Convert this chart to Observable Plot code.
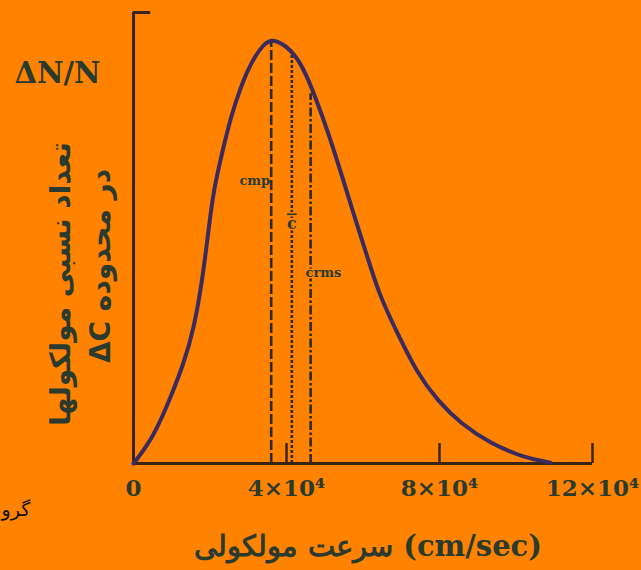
<!DOCTYPE html>
<html>
<head>
<meta charset="utf-8">
<script src="https://cdn.jsdelivr.net/npm/d3@7"></script>
<script src="https://cdn.jsdelivr.net/npm/@observablehq/plot@0.6"></script>
<style>
  html, body { margin: 0; padding: 0; background: #ff8300; }
  #chart svg { display: block; }
  .cbar text { text-decoration: overline; }
</style>
</head>
<body>
<div id="chart"></div>
<script>
// speed in units of 10^4 cm/sec, relative fraction ΔN/N (peak = 1)
const speed = [0, 0.52, 0.97, 1.31, 1.57, 1.80, 1.96, 2.09, 2.33, 2.54, 2.80, 3.06, 3.40, 3.66, 4.10, 4.44, 4.76, 5.07, 5.41, 5.75, 6.12, 6.41, 6.90, 7.42, 7.95, 8.55, 9.33, 10.20, 10.90];
const fraction = [0, 0.061, 0.155, 0.235, 0.313, 0.431, 0.548, 0.642, 0.736, 0.814, 0.885, 0.941, 0.988, 1.0, 0.976, 0.932, 0.861, 0.784, 0.689, 0.588, 0.485, 0.400, 0.306, 0.212, 0.148, 0.094, 0.047, 0.014, 0.002];

const tickValues = [0, 4, 8, 12];
const tickLabels = ["0", "4×10⁴", "8×10⁴", "12×10⁴"];

const markerNames = ["cmp", "c", "crms"];
const markerSpeed = [3.60, 4.14, 4.63];
const markerTop = [0.99, 0.965, 0.87];
const markerLabelY = [0.666, 0.565, 0.449];

const yMax = 1.061;
const xMax = 12;

const curve = speed.map((s, i) => ({s, f: fraction[i]}));
const markers = markerNames.map((n, i) => ({n, s: markerSpeed[i], top: markerTop[i], ly: markerLabelY[i]}));

const ink = "#2e2a30";
const axisInk = "#3a2416";
const curveInk = "#3b2a5e";
const labelInk = "#2b3a2e";
const bg = "#ff8300";
const serif = "DejaVu Serif, serif";
const persian = "DejaVu Sans, sans-serif";

const dashes = ["10,3", "3,2", "9,2.5,2.5,2.5"];

const chart = Plot.plot({
  width: 641,
  height: 570,
  marginLeft: 133,
  marginRight: 49,
  marginTop: 12,
  marginBottom: 107,
  style: {background: bg, overflow: "visible"},
  x: {domain: [0, xMax], axis: null},
  y: {domain: [0, yMax], axis: null},
  marks: [
    // marker lines
    ...markers.map((m, i) => Plot.ruleX([m], {x: "s", y1: 0, y2: "top", stroke: ink, strokeWidth: 2.6, strokeDasharray: dashes[i]})),
    // axes
    Plot.ruleX([0], {y1: 0, y2: yMax, stroke: axisInk, strokeWidth: 3}),
    Plot.ruleY([yMax], {x1: 0, x2: 0.45, stroke: axisInk, strokeWidth: 3}),
    Plot.ruleY([0], {x1: 0, x2: xMax, stroke: axisInk, strokeWidth: 3}),
    Plot.ruleX(tickValues.slice(1), {y1: 0, y2: 0.047, stroke: axisInk, strokeWidth: 2.5}),
    // curve
    Plot.line(curve, {x: "s", y: "f", curve: "basis", stroke: curveInk, strokeWidth: 4}),
    // marker labels
    Plot.text(markers.slice(0, 1), {x: "s", y: "ly", text: "n", textAnchor: "end", lineAnchor: "middle", dx: -1, fontSize: 13, fontWeight: "bold", fontFamily: serif, fill: labelInk}),
    Plot.text(markers.slice(1, 2), {x: "s", y: "ly", text: "n", className: "cbar", textAnchor: "middle", lineAnchor: "middle", dy: 1, fontSize: 16, fontWeight: "bold", fontFamily: serif, fill: labelInk, stroke: bg, strokeWidth: 3, paintOrder: "stroke"}),
    Plot.text(markers.slice(2, 3), {x: "s", y: "ly", text: "n", textAnchor: "start", lineAnchor: "middle", dx: -5, fontSize: 13, fontWeight: "bold", fontFamily: serif, fill: labelInk, stroke: bg, strokeWidth: 3, paintOrder: "stroke"}),
    // tick labels
    Plot.text(tickValues, {x: d => d, text: (d, i) => tickLabels[i], frameAnchor: "bottom", lineAnchor: "middle", textAnchor: "middle", dy: 25, fontSize: 23, fontWeight: "bold", fontFamily: serif, fill: labelInk}),
    // x label
    Plot.text(["سرعت مولکولی (cm/sec)"], {frameAnchor: "bottom", lineAnchor: "middle", textAnchor: "middle", dx: 5, dy: 83, fontSize: 29, fontWeight: "bold", fontFamily: serif, fill: labelInk}),
    // y labels
    Plot.text(["ΔN/N"], {frameAnchor: "top-left", lineAnchor: "middle", textAnchor: "middle", dx: -76, dy: 61, fontSize: 29, fontWeight: "bold", fontFamily: serif, fill: labelInk}),
    Plot.text(["تعداد نسبی مولکولها"], {frameAnchor: "left", lineAnchor: "middle", textAnchor: "middle", dx: -72, dy: 46, rotate: -90, fontSize: 28, fontWeight: "bold", fontFamily: persian, fill: labelInk}),
    Plot.text(["ΔC در محدوده"], {frameAnchor: "left", lineAnchor: "middle", textAnchor: "middle", dx: -32, dy: 28, rotate: -90, fontSize: 28, fontWeight: "bold", fontFamily: persian, fill: labelInk}),
    // caption fragment at the left edge
    Plot.text(["گرو"], {frameAnchor: "bottom-left", lineAnchor: "middle", textAnchor: "start", dx: -132, dy: 46, fontSize: 19, fontFamily: persian, fill: "#111"})
  ]
});
document.getElementById("chart").appendChild(chart);
</script>
</body>
</html>
